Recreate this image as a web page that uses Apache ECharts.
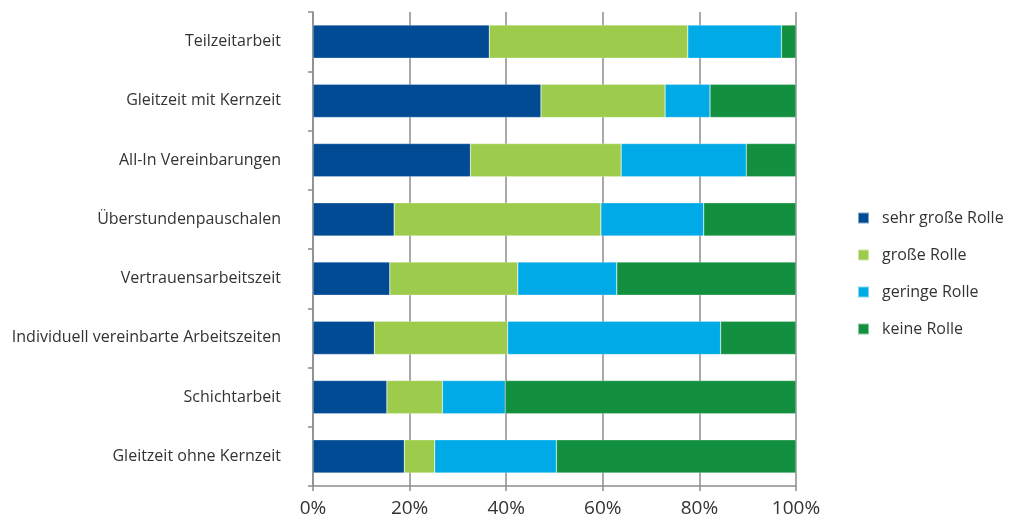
<!DOCTYPE html>
<html>
<head>
<meta charset="utf-8">
<script src="https://cdn.jsdelivr.net/npm/echarts@6/dist/echarts.min.js"></script>
<style>
html,body{margin:0;padding:0;background:#fff;}
#chart{width:1019px;height:520px;}
</style>
</head>
<body>
<div id="chart"></div>
<script>
const categories = [
  "Teilzeitarbeit",
  "Gleitzeit mit Kernzeit",
  "All-In Vereinbarungen",
  "Überstundenpauschalen",
  "Vertrauensarbeitszeit",
  "Individuell vereinbarte Arbeitszeiten",
  "Schichtarbeit",
  "Gleitzeit ohne Kernzeit"
];
const seriesNames = ["sehr große Rolle", "große Rolle", "geringe Rolle", "keine Rolle"];
const sehrGross = [36.5, 47.2, 32.6, 16.8, 15.9, 12.7, 15.3, 18.9];
const gross     = [41.1, 25.7, 31.2, 42.8, 26.5, 27.6, 11.5, 6.3];
const gering    = [19.4, 9.3, 25.9, 21.3, 20.5, 44.1, 13.0, 25.2];
const keine     = [3.0, 17.8, 10.3, 19.1, 37.1, 15.6, 60.2, 49.6];
const xTicks = [0, 20, 40, 60, 80, 100];

const colors = ["#004B93", "#9DCB4B", "#00AAE6", "#13903F"];
const dataSets = [sehrGross, gross, gering, keine];
const font = "'Open Sans', 'Noto Sans', sans-serif";

const chart = echarts.init(document.getElementById('chart'));
chart.setOption({
  animation: false,
  textStyle: { fontFamily: font },
  grid: { left: 313, right: 223, top: 12, bottom: 34, containLabel: false },
  legend: {
    orient: 'vertical',
    left: 852,
    top: 205,
    itemWidth: 11,
    itemHeight: 11,
    itemGap: 21,
    icon: 'rect',
    textStyle: { fontSize: 16, color: '#333', fontFamily: font, padding: [0, 0, 0, 8] },
    data: seriesNames
  },
  xAxis: {
    type: 'value',
    min: 0,
    max: 100,
    interval: 20,
    axisLine: { show: true, lineStyle: { color: '#8c8c8c', width: 1.5 } },
    axisTick: { show: true, length: 5, lineStyle: { color: '#8c8c8c', width: 1.5 } },
    splitLine: { show: true, lineStyle: { color: '#8c8c8c', width: 1.5 } },
    axisLabel: {
      fontSize: 19, color: '#333', fontFamily: font, margin: 13,
      formatter: v => xTicks.includes(v) ? v + '%' : ''
    }
  },
  yAxis: {
    type: 'category',
    inverse: true,
    data: categories,
    axisLine: { show: true, lineStyle: { color: '#8c8c8c', width: 1.5 } },
    axisTick: { show: true, length: 5, lineStyle: { color: '#8c8c8c', width: 1.5 } },
    axisLabel: { fontSize: 16, color: '#333', fontFamily: font, margin: 32 }
  },
  series: seriesNames.map((name, i) => ({
    name: name,
    type: 'bar',
    stack: 'total',
    barCategoryGap: '44%',
    itemStyle: { color: colors[i], borderColor: 'rgba(255,255,255,0.5)', borderWidth: 0.5 },
    data: dataSets[i]
  }))
});
</script>
</body>
</html>
